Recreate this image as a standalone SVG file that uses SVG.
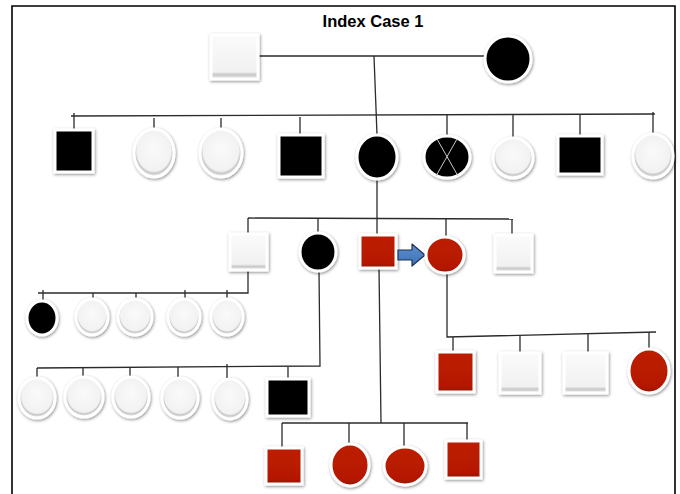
<svg xmlns="http://www.w3.org/2000/svg" width="680" height="494" viewBox="0 0 680 494">
<defs>
<filter id="sh" x="-30%" y="-30%" width="160%" height="160%">
<feDropShadow dx="0.8" dy="1.2" stdDeviation="1.4" flood-color="#000" flood-opacity="0.45"/>
</filter>
<linearGradient id="gw" x1="0" y1="0" x2="0" y2="1">
<stop offset="0" stop-color="#fbfbfb"/>
<stop offset="0.84" stop-color="#f1f1f1"/>
<stop offset="0.9" stop-color="#c9c9c9"/>
<stop offset="1" stop-color="#ececec"/>
</linearGradient>
<radialGradient id="gwe" cx="0.5" cy="0.46" r="0.52" fx="0.5" fy="0.4">
<stop offset="0" stop-color="#fafafa"/>
<stop offset="0.82" stop-color="#f2f2f2"/>
<stop offset="0.9" stop-color="#c8c8c8"/>
<stop offset="1" stop-color="#eeeeee"/>
</radialGradient>
<linearGradient id="gr" x1="0" y1="0" x2="0" y2="1">
<stop offset="0" stop-color="#bd1b06"/>
<stop offset="0.85" stop-color="#b51905"/>
<stop offset="1" stop-color="#8e1300"/>
</linearGradient>
<linearGradient id="gb" x1="0" y1="0" x2="0" y2="1">
<stop offset="0" stop-color="#5b8fd0"/>
<stop offset="1" stop-color="#3f72b5"/>
</linearGradient>
</defs>
<style>
.w{fill:url(#gw);stroke:#fff;stroke-width:3;filter:url(#sh)}
.we{fill:url(#gwe);stroke:#fff;stroke-width:3;filter:url(#sh)}
.b{fill:#000;stroke:#fff;stroke-width:3;filter:url(#sh)}
.r{fill:url(#gr);stroke:#fff;stroke-width:3;filter:url(#sh)}
.ln{stroke:#2b2b2b;stroke-width:1.3;fill:none}
.x{stroke:#c8c8c8;stroke-width:1}
.t{font-family:"Liberation Sans",Arial,sans-serif;font-weight:bold;font-size:16.5px;fill:#000}
</style>
<rect width="680" height="494" fill="#fff"/>
<path d="M12 500 V6 H675 V500" fill="none" stroke="#000" stroke-width="1.6"/>
<text class="t" x="373" y="27" text-anchor="middle">Index Case 1</text>

<g id="connectors">
<path class="ln" d="M259 56 H484"/>
<path class="ln" d="M374 56 L377 135"/>
<path class="ln" d="M71 116 L655 114"/>
<path class="ln" d="M74 113 V130 M154 118 V129 M221 118 V129 M300 117 V135 M447 115 V135 M513 115 V137 M580 115 V136 M653 112 V134"/>
<path class="ln" d="M377 178 V235"/>
<path class="ln" d="M248 218 L513 219"/>
<path class="ln" d="M248 218 V234 M318 218 V233 M446 219 V237 M512 219 V235"/>
<path class="ln" d="M248 270 V293 H38"/>
<path class="ln" d="M43 290 V301 M93 293 V299 M136 293 V299 M185 290 V299 M227 290 V299"/>
<path class="ln" d="M319 271 L320 366 L37 368"/>
<path class="ln" d="M37 368 V379 M83 367 V377 M130 367 V377 M178 367 V378 M227 364 V379 M288 367 V379"/>
<path class="ln" d="M447 273 V337 L656 332"/>
<path class="ln" d="M453 337 V352 M520 336 V353 M588 334 V353 M649 332 V349"/>
<path class="ln" d="M379 268 L381 423"/>
<path class="ln" d="M282 423 H468"/>
<path class="ln" d="M282 423 V448 M349 423 V444 M404 423 V447 M467 423 V441"/>
</g>

<g id="I-1"><rect class="w" x="211" y="35" width="47" height="44"/></g>
<g id="I-2"><ellipse class="b" cx="508" cy="59" rx="23" ry="23"/></g>

<g id="II-1"><rect class="b" x="55" y="130" width="38" height="42"/></g>
<g id="II-2"><ellipse class="we" cx="154" cy="153" rx="20" ry="24"/></g>
<g id="II-3"><ellipse class="we" cx="221" cy="153" rx="21" ry="24"/></g>
<g id="II-4"><rect class="b" x="279" y="135" width="44" height="42"/></g>
<g id="II-5"><ellipse class="b" cx="377" cy="157" rx="20" ry="22"/></g>
<g id="II-6"><ellipse class="b" cx="447" cy="157" rx="23" ry="21"/><path class="x" d="M437 139 L458 176 M457 139 L436 176"/></g>
<g id="II-7"><ellipse class="we" cx="513" cy="158" rx="20" ry="20"/></g>
<g id="II-8"><rect class="b" x="558" y="136" width="44" height="38"/></g>
<g id="II-9"><ellipse class="we" cx="653" cy="156" rx="20" ry="22"/></g>

<g id="III-1"><rect class="w" x="230" y="234" width="37" height="36"/></g>
<g id="III-2"><ellipse class="b" cx="318" cy="252" rx="18" ry="19"/></g>
<g id="III-3"><rect class="r" x="360" y="235" width="36" height="33"/></g>
<g id="proband-arrow"><path d="M398 250 H412 V244 L425 255 L412 266 V260 H398 Z" fill="url(#gb)" stroke="#1c3350" stroke-width="1.2" stroke-linejoin="round"/></g>
<g id="III-4"><ellipse class="r" cx="445" cy="255" rx="19" ry="18"/></g>
<g id="III-5"><rect class="w" x="495" y="235" width="37" height="37"/></g>

<g id="IV-1"><ellipse class="b" cx="42" cy="318" rx="15" ry="17"/></g>
<g id="IV-2"><ellipse class="we" cx="92" cy="317" rx="16" ry="18"/></g>
<g id="IV-3"><ellipse class="we" cx="135" cy="317" rx="17" ry="18"/></g>
<g id="IV-4"><ellipse class="we" cx="184" cy="317" rx="16" ry="18"/></g>
<g id="IV-5"><ellipse class="we" cx="227" cy="317" rx="16" ry="18"/></g>

<g id="IV-6"><ellipse class="we" cx="37" cy="398" rx="18" ry="20"/></g>
<g id="IV-7"><ellipse class="we" cx="84" cy="397" rx="19" ry="20"/></g>
<g id="IV-8"><ellipse class="we" cx="131" cy="397" rx="18" ry="20"/></g>
<g id="IV-9"><ellipse class="we" cx="180" cy="398" rx="18" ry="20"/></g>
<g id="IV-10"><ellipse class="we" cx="230" cy="399" rx="17" ry="20"/></g>
<g id="IV-11"><rect class="b" x="267" y="379" width="42" height="37"/></g>

<g id="IV-12"><rect class="r" x="437" y="352" width="37" height="40"/></g>
<g id="IV-13"><rect class="w" x="500" y="353" width="40" height="40"/></g>
<g id="IV-14"><rect class="w" x="564" y="353" width="43" height="40"/></g>
<g id="IV-15"><ellipse class="r" cx="649" cy="371" rx="20" ry="22"/></g>

<g id="IV-16"><rect class="r" x="266" y="448" width="36" height="36"/></g>
<g id="IV-17"><ellipse class="r" cx="350" cy="465" rx="19" ry="21"/></g>
<g id="IV-18"><ellipse class="r" cx="405" cy="466" rx="21" ry="19"/></g>
<g id="IV-19"><rect class="r" x="446" y="441" width="35" height="37"/></g>
</svg>
